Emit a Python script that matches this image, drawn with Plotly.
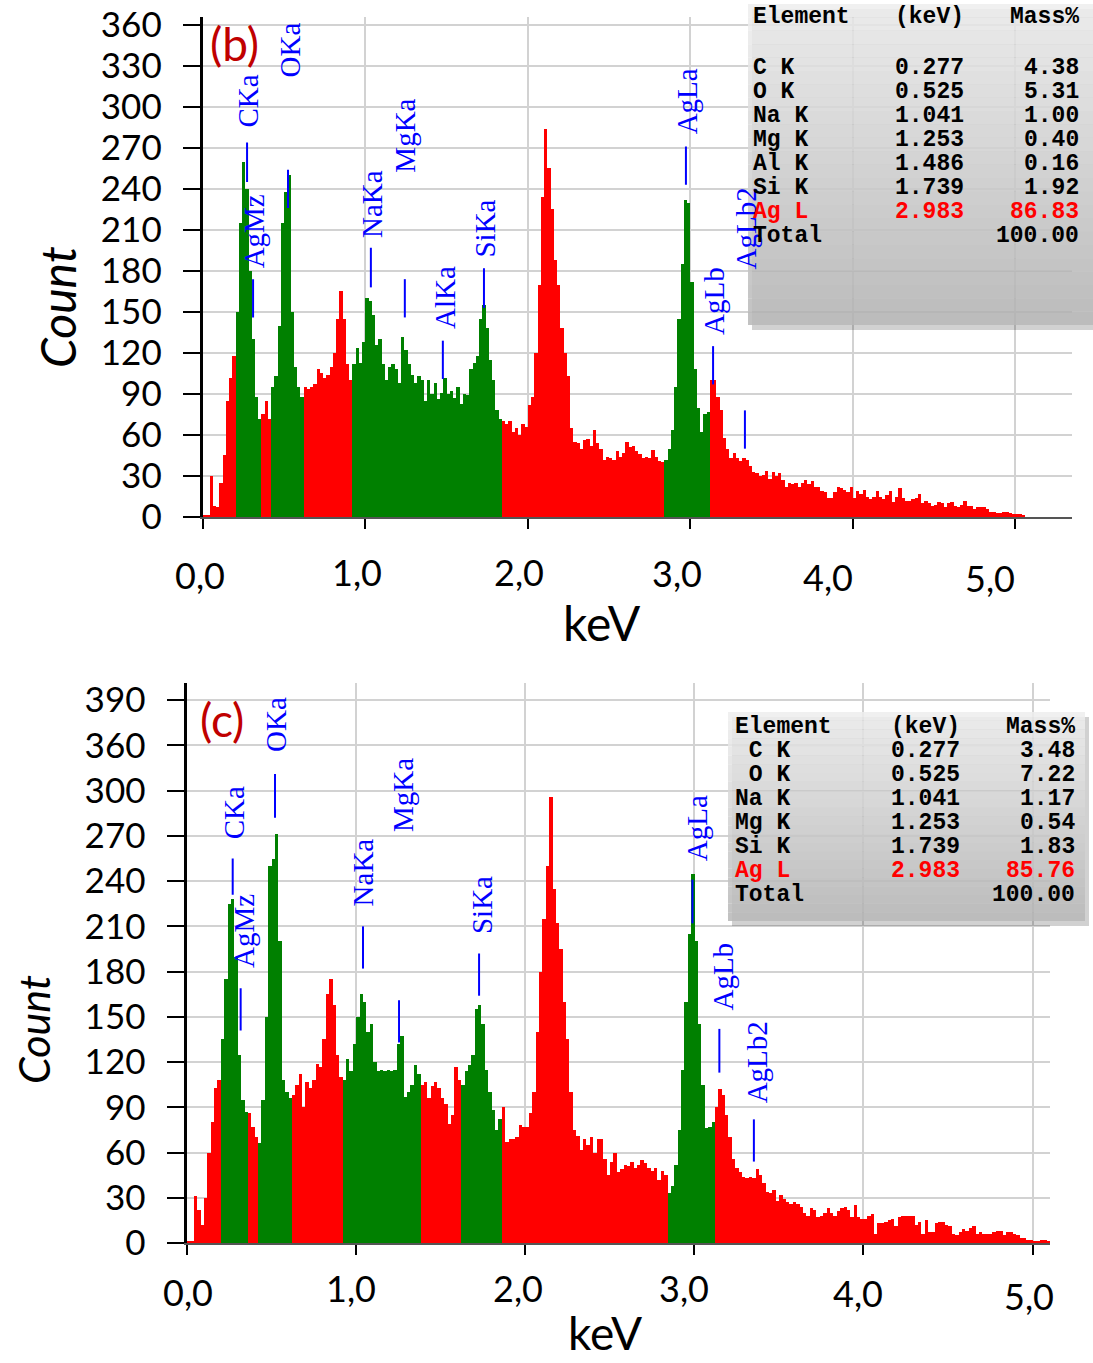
import plotly.graph_objects as go

W, H = 1093, 1363
BIN_WIDTH = 0.02  # keV per channel group

# ---------------- data: panel (b) ----------------
counts_b = [
    1, 1, 30, 8, 7, 25, 45, 85, 102, 118,
    150, 215, 260, 240, 180, 130, 88, 72, 75, 85,
    72, 95, 103, 140, 215, 238, 250, 150, 110, 95,
    88, 95, 94, 95, 97, 108, 105, 102, 104, 110,
    120, 145, 165, 145, 112, 100, 112, 124, 113, 128,
    160, 158, 148, 126, 130, 112, 100, 110, 112, 108,
    98, 132, 122, 112, 104, 98, 103, 100, 85, 100,
    90, 98, 86, 91, 102, 90, 92, 87, 95, 83,
    90, 89, 108, 113, 118, 145, 155, 138, 115, 100,
    78, 72, 70, 68, 70, 62, 65, 60, 68, 66,
    82, 88, 120, 170, 234, 284, 255, 225, 188, 170,
    138, 120, 103, 65, 55, 54, 50, 56, 57, 52,
    64, 54, 50, 42, 44, 43, 42, 48, 44, 47,
    55, 51, 52, 48, 46, 43, 44, 43, 49, 44,
    41, 40, 42, 50, 64, 95, 145, 185, 232, 230,
    172, 108, 80, 62, 75, 77, 100, 100, 88, 78,
    58, 50, 43, 47, 43, 41, 43, 42, 37, 33,
    32, 30, 31, 34, 28, 33, 30, 32, 27, 22,
    25, 24, 25, 22, 25, 27, 24, 26, 22, 22,
    19, 18, 14, 14, 18, 22, 21, 20, 18, 22,
    14, 19, 17, 20, 15, 13, 15, 19, 15, 13,
    16, 19, 11, 15, 21, 14, 12, 12, 13, 14,
    17, 10, 12, 10, 8, 9, 11, 10, 7, 10,
    11, 8, 7, 9, 12, 8, 8, 6, 7, 7,
    7, 6, 4, 4, 3, 3, 4, 4, 3, 2,
    2, 2, 1,
]

# ---------------- data: panel (c) ----------------
counts_c = [
    1, 1, 31, 22, 12, 30, 60, 80, 103, 108,
    135, 175, 225, 228, 190, 125, 95, 87, 86, 77,
    70, 66, 95, 150, 250, 255, 271, 200, 108, 100,
    96, 98, 105, 112, 90, 107, 103, 108, 119, 117,
    135, 165, 175, 158, 125, 110, 108, 122, 114, 132,
    150, 165, 160, 140, 145, 120, 114, 115, 114, 115,
    114, 115, 132, 137, 97, 100, 105, 118, 112, 105,
    107, 96, 104, 107, 103, 96, 92, 79, 85, 117,
    108, 105, 114, 118, 125, 155, 158, 145, 115, 100,
    88, 75, 82, 90, 67, 69, 69, 70, 78, 77,
    77, 86, 100, 140, 180, 215, 250, 296, 235, 212,
    195, 160, 135, 100, 75, 71, 62, 69, 65, 70,
    60, 69, 69, 56, 45, 54, 60, 47, 49, 52,
    51, 54, 50, 52, 55, 53, 50, 48, 50, 42,
    48, 45, 33, 38, 52, 75, 115, 160, 205, 245,
    200, 145, 105, 76, 77, 80, 90, 102, 98, 85,
    70, 56, 50, 47, 44, 43, 44, 43, 49, 45,
    40, 34, 33, 35, 28, 32, 29, 27, 26, 27,
    26, 24, 20, 18, 23, 22, 17, 18, 20, 23,
    20, 18, 21, 23, 24, 22, 17, 25, 17, 16,
    16, 18, 19, 6, 13, 13, 14, 15, 16, 11,
    17, 18, 18, 18, 18, 12, 14, 6, 15, 7,
    7, 13, 14, 14, 12, 11, 6, 5, 7, 9,
    8, 10, 11, 6, 7, 6, 6, 6, 7, 8,
    8, 5, 7, 7, 6, 5, 3, 3, 2, 2,
    1, 1, 2, 2, 1,
]

# energy windows drawn in green (identified peak regions), keV
green_windows_b = [(0.195, 0.365), (0.425, 0.615), (0.925, 1.85), (2.835, 3.12)]
green_windows_c = [(0.195, 0.37), (0.425, 0.62), (0.925, 1.375), (1.625, 1.86), (2.84, 3.12)]

# peak identification labels
peak_names_b = ["CKa", "OKa", "AgMz", "NaKa", "MgKa", "AlKa", "SiKa", "AgLa", "AgLb", "AgLb2"]
peak_kev_b = [0.273, 0.525, 0.31, 1.035, 1.244, 1.478, 1.731, 2.974, 3.141, 3.337]
marker_lo_b = [245, 226, 146, 168, 146, 101, 153, 243, 97, 50]
marker_hi_b = [274, 254, 174, 197, 174, 129, 182, 271, 125, 78]
label_kev_b = [0.279, 0.537, 0.316, 1.042, 1.245, 1.491, 1.737, 2.986, 3.146, 3.343]
label_cnt_b = [304, 342, 209, 229, 279, 161, 211, 304, 158, 211]

peak_names_c = ["CKa", "OKa", "AgMz", "NaKa", "MgKa", "SiKa", "AgLa", "AgLb", "AgLb2"]
peak_kev_c = [0.273, 0.523, 0.32, 1.043, 1.256, 1.729, 2.99, 3.149, 3.353]
marker_lo_c = [231, 282, 141, 182, 133, 164, 212, 113, 54]
marker_hi_c = [255, 311, 169, 210, 161, 192, 241, 142, 82]
label_kev_c = [0.281, 0.533, 0.340, 1.045, 1.278, 1.745, 3.016, 3.173, 3.373]
label_cnt_c = [285, 344, 207, 246, 297, 224, 275, 177, 120]

# quantification tables
table_b_elem = ["C K", "O K", "Na K", "Mg K", "Al K", "Si K", "Ag L", "Total"]
table_b_kev = ["0.277", "0.525", "1.041", "1.253", "1.486", "1.739", "2.983", ""]
table_b_mass = ["4.38", "5.31", "1.00", "0.40", "0.16", "1.92", "86.83", "100.00"]

table_c_elem = ["\u00a0C K", "\u00a0O K", "Na K", "Mg K", "Si K", "Ag L", "Total"]
table_c_kev = ["0.277", "0.525", "1.041", "1.253", "1.739", "2.983", ""]
table_c_mass = ["3.48", "7.22", "1.17", "0.54", "1.83", "85.76", "100.00"]

# ticks
xtick_vals = [0, 1, 2, 3, 4, 5]
xtick_text = ["0,0", "1,0", "2,0", "3,0", "4,0", "5,0"]
ytick_vals = [0, 30, 60, 90, 120, 150, 180, 210, 240, 270, 300, 330, 360]
ytick_text_b = ["0", "30", "60", "90", "120", "150", "180", "210", "240", "270", "300", "330", "360"]
ytick_text_c = ["0", "30", "60", "90", "120", "150", "180", "210", "240", "270", "300", "360", "390"]

# ---------------- layout helpers (pixel -> paper) ----------------
def px(x):
    return x / W

def py(y):
    return 1 - y / H

RED = "#ff0000"
GREEN = "#008000"
BLUE = "#0000ff"
SANS = "Lato"

def bar_trace(counts, windows, xa, ya):
    centers = [round(BIN_WIDTH * i + BIN_WIDTH / 2, 4) for i in range(len(counts))]
    colors = [GREEN if any(lo <= c < hi for lo, hi in windows) else RED for c in centers]
    return go.Bar(x=centers, y=counts, width=BIN_WIDTH, marker=dict(color=colors, line=dict(width=0)),
                  xaxis=xa, yaxis=ya, showlegend=False, hoverinfo="x+y")

fig = go.Figure()
fig.add_trace(bar_trace(counts_b, green_windows_b, "x", "y"))
fig.add_trace(bar_trace(counts_c, green_windows_c, "x2", "y2"))

shapes = []
annotations = []

# peak marker lines + labels
for names, kev, lo, hi, lk, lc, xr, yr in [
    (peak_names_b, peak_kev_b, marker_lo_b, marker_hi_b, label_kev_b, label_cnt_b, "x", "y"),
    (peak_names_c, peak_kev_c, marker_lo_c, marker_hi_c, label_kev_c, label_cnt_c, "x2", "y2"),
]:
    for n, k, a, b, x, y in zip(names, kev, lo, hi, lk, lc):
        shapes.append(dict(type="line", xref=xr, yref=yr, x0=k, x1=k, y0=a, y1=b,
                           line=dict(color=BLUE, width=2), layer="above"))
        annotations.append(dict(text=n, x=x, y=y, xref=xr, yref=yr, showarrow=False, textangle=-90,
                                xanchor="center", yanchor="middle",
                                font=dict(family="Liberation Serif", size=29, color=BLUE)))

# table boxes with vertical gray gradient
def table_box(x0, y0, x1, y1):
    shapes.append(dict(type="rect", xref="paper", yref="paper", x0=px(x0 + 4), x1=px(x1 + 4),
                       y0=py(y1 + 5), y1=py(y0 + 5), fillcolor="rgba(0,0,0,0.18)",
                       line=dict(width=0), layer="above"))
    n = 24
    for i in range(n):
        t = i / (n - 1)
        g = int(round(238 - t * (238 - 184)))
        ya = y0 + (y1 - y0) * i / n
        yb = y0 + (y1 - y0) * (i + 1) / n
        shapes.append(dict(type="rect", xref="paper", yref="paper", x0=px(x0), x1=px(x1),
                           y0=py(yb), y1=py(ya), fillcolor=f"rgb({g},{g},{g})", opacity=0.86,
                           line=dict(width=0), layer="above"))

table_box(748, 4, 1093, 325)
table_box(728, 712, 1085, 921)

MONO = dict(family="Liberation Mono", size=23)

def table_text(header_y, rows_y0, dy, x_left, x_kev, x_mass, elems, kevs, masses):
    def add(txt, x, y, anchor, color="black"):
        annotations.append(dict(text=f"<b>{txt}</b>", x=px(x), y=py(y), xref="paper", yref="paper",
                                xanchor=anchor, yanchor="middle", showarrow=False,
                                font=dict(color=color, **MONO)))
    add("Element", x_left, header_y, "left")
    add("(keV)", x_kev, header_y, "right")
    add("Mass%", x_mass, header_y, "right")
    for i, (e, k, m) in enumerate(zip(elems, kevs, masses)):
        y = rows_y0 + dy * i
        col = RED if e.strip() == "Ag L" else "black"
        add(e, x_left, y, "left", col)
        if k:
            add(k, x_kev, y, "right", col)
        add(m, x_mass, y, "right", col)

table_text(17, 68, 24, 751, 966, 1081, table_b_elem, table_b_kev, table_b_mass)
table_text(727, 751, 24, 733, 962, 1077, table_c_elem, table_c_kev, table_c_mass)

def paper_text(text, x, y, size, color="black", angle=0):
    return dict(text=text, x=px(x), y=py(y), xref="paper", yref="paper", showarrow=False,
                xanchor="center", yanchor="middle", textangle=angle,
                font=dict(family=SANS, size=size, color=color))

# x tick labels (placed as in the figure, pixel centres)
xlab_px_b = [200, 357, 519, 677, 828, 990]
xlab_py_b = [575, 572, 572, 573, 577, 578]
xlab_px_c = [188, 351, 518, 684, 858, 1029]
xlab_py_c = [1292, 1288, 1288, 1288, 1293, 1296]
for xs, ys in [(xlab_px_b, xlab_py_b), (xlab_px_c, xlab_py_c)]:
    for t, xx, yy in zip(xtick_text, xs, ys):
        annotations.append(paper_text(t, xx, yy, 36))

# axis titles and panel letters
annotations += [
    paper_text("keV", 602, 622, 48),
    paper_text("<i>Count</i>", 57, 307, 48, angle=-90),
    paper_text("keV", 605, 1332, 46),
    paper_text("<i>Count</i>", 33, 1030, 43, angle=-90),
    paper_text("(b)", 234, 44, 46, color="#c00000"),
    paper_text("(c)", 222, 719, 46, color="#c00000"),
]

GRID = "#d2d2d2"
xcommon = dict(tickvals=xtick_vals, showticklabels=False, ticks="outside", ticklen=10, tickwidth=2,
               tickcolor="black", showgrid=True, gridcolor=GRID, gridwidth=2, showline=True,
               linecolor="#555555", linewidth=2, zeroline=False, fixedrange=True, automargin=False)
ycommon = dict(tickvals=ytick_vals, ticks="outside", ticklen=17, tickwidth=2, tickcolor="black",
               showgrid=True, gridcolor=GRID, gridwidth=2, showline=True, linecolor="black",
               linewidth=3, zeroline=False, tickfont=dict(family=SANS, size=35, color="black"),
               ticklabelstandoff=14, fixedrange=True, automargin=False)

fig.update_layout(
    width=W, height=H, margin=dict(l=0, r=0, t=0, b=0, autoexpand=False),
    paper_bgcolor="white", plot_bgcolor="white", bargap=0, barmode="overlay",
    xaxis=dict(domain=[px(202.7), px(1072)], range=[0, 5.35], anchor="y", **xcommon),
    yaxis=dict(domain=[py(517), py(17)], range=[0, 365.8], anchor="x", ticktext=ytick_text_b, **ycommon),
    xaxis2=dict(domain=[px(186.5), px(1050)], range=[0, 5.103], anchor="y2", **xcommon),
    yaxis2=dict(domain=[py(1243), py(683)], range=[0, 371.4], anchor="x2", ticktext=ytick_text_c, **ycommon),
    shapes=shapes, annotations=annotations, showlegend=False,
)

fig.write_html("out.html", config={"displayModeBar": False},
               post_script="document.body.style.margin='0';")
